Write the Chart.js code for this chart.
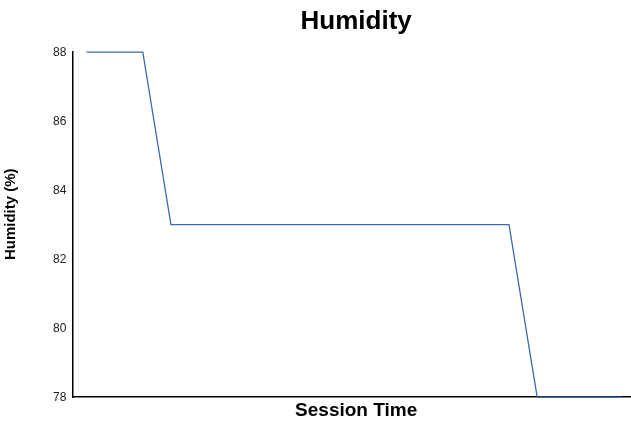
<!DOCTYPE html>
<html>
<head>
<meta charset="utf-8">
<script src="https://cdn.jsdelivr.net/npm/chart.js@4.4.0/dist/chart.umd.min.js"></script>
<style>
  html, body { margin: 0; padding: 0; overflow: hidden; background: #fff; }
  #wrap { width: 640px; height: 422px; }
</style>
</head>
<body>
<div id="wrap"><canvas id="myChart"></canvas></div>
<script>
// session time steps (no labels shown on the axis)
let sessionTimes = [0, 1, 2, 3, 4, 5, 6, 7, 8, 9, 10, 11, 12, 13, 14, 15, 16, 17, 18, 19];
let humidity = [88, 88, 88, 83, 83, 83, 83, 83, 83, 83, 83, 83, 83, 83, 83, 83, 78, 78, 78, 78];
let yTicks = [78, 80, 82, 84, 86, 88];

Chart.defaults.font.family = "'Liberation Sans', Arial, sans-serif";
Chart.defaults.color = '#222';

let ctx = document.getElementById('myChart').getContext('2d');
let myChart = new Chart(ctx, {
    type: 'line',
    data: {
        labels: sessionTimes,
        datasets: [{
            label: 'Humidity',
            data: humidity,
            borderColor: '#3d6bab',
            borderWidth: 1.3,
            pointRadius: 0,
            tension: 0,
            fill: false,
            clip: false
        }]
    },
    options: {
        responsive: true,
        maintainAspectRatio: false,
        animation: false,
        layout: {
            padding: { left: 0, right: 0, top: 0, bottom: 0 }
        },
        plugins: {
            legend: { display: false },
            tooltip: { enabled: false },
            title: {
                display: true,
                text: 'Humidity',
                color: '#000',
                fullSize: false,
                font: { size: 26, weight: 'bold' },
                padding: { top: 6, bottom: 15 }
            }
        },
        scales: {
            x: {
                type: 'linear',
                min: -0.5,
                max: 19.65,
                grid: { display: false, drawTicks: false },
                border: { display: true, color: '#000', width: 1.5 },
                ticks: { display: false },
                title: {
                    display: true,
                    text: 'Session Time',
                    color: '#000',
                    font: { size: 19, weight: 'bold' },
                    padding: { top: 2, bottom: 0 }
                }
            },
            y: {
                min: 78,
                max: 88,
                afterBuildTicks: axis => {
                    axis.ticks = yTicks.map(v => ({ value: v }));
                },
                grid: { display: false, drawTicks: false },
                border: { display: true, color: '#000', width: 1.5 },
                ticks: {
                    padding: 6,
                    font: { size: 12 },
                    color: '#222'
                },
                title: {
                    display: true,
                    // leading spaces nudge the label up a little, as in the original
                    text: '     Humidity (%)',
                    color: '#000',
                    font: { size: 15, weight: 'bold' },
                    padding: { top: 2, bottom: 27 }
                }
            }
        }
    }
});
</script>
</body>
</html>
